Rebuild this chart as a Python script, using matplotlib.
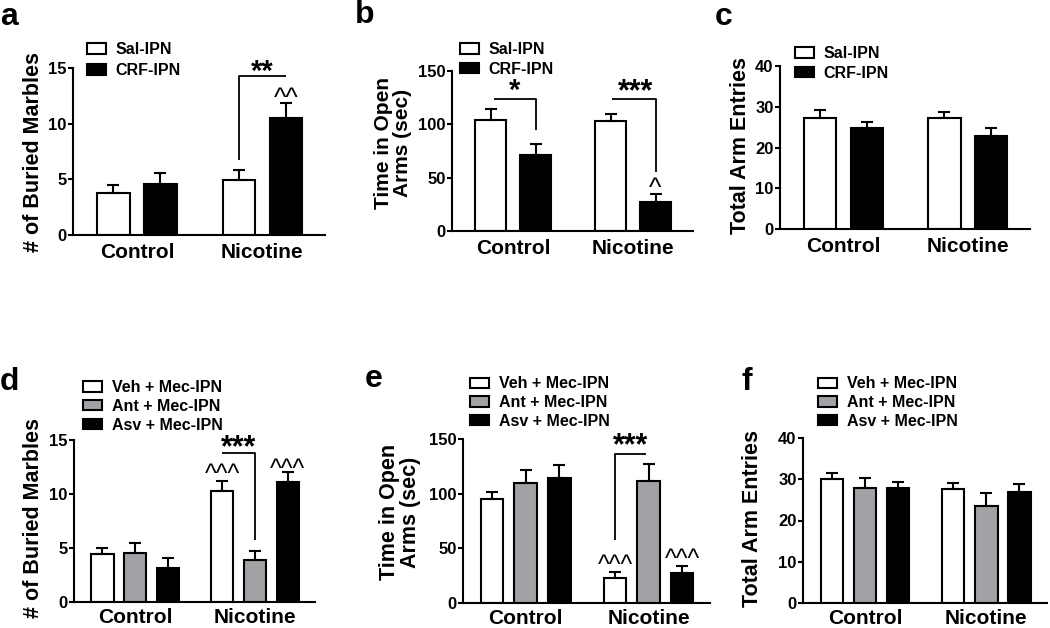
import matplotlib
matplotlib.use("Agg")
import matplotlib.pyplot as plt
from matplotlib.patches import Patch
import numpy as np

plt.rcParams['font.family'] = ['Liberation Sans', 'DejaVu Sans']
plt.rcParams['font.weight'] = 'bold'

# ---------------- data ----------------
groups = ['Control', 'Nicotine']

# panel a: # of buried marbles
a_sal = [3.75, 4.95]
a_sal_err = [0.75, 0.9]
a_crf = [4.6, 10.5]
a_crf_err = [0.95, 1.4]

# panel b: time in open arms
b_sal = [104, 103.5]
b_sal_err = [10, 6.5]
b_crf = [71, 27]
b_crf_err = [10.5, 7.5]

# panel c: total arm entries
c_sal = [27.3, 27.3]
c_sal_err = [2.0, 1.3]
c_crf = [24.9, 22.9]
c_crf_err = [1.4, 1.9]

# panel d
d_veh = [4.42, 10.3]
d_veh_err = [0.62, 0.9]
d_ant = [4.58, 3.87]
d_ant_err = [0.9, 0.83]
d_asv = [3.19, 11.13]
d_asv_err = [0.92, 0.93]

# panel e
e_veh = [95.2, 23.3]
e_veh_err = [6.7, 4.6]
e_ant = [109.6, 111.7]
e_ant_err = [11.6, 15.3]
e_asv = [114.2, 27.6]
e_asv_err = [11.6, 6.4]

# panel f
f_veh = [30.1, 27.6]
f_veh_err = [1.4, 1.6]
f_ant = [27.8, 23.6]
f_ant_err = [2.6, 3.0]
f_asv = [27.8, 26.9]
f_asv_err = [1.6, 1.9]

labels2 = ['Sal-IPN', 'CRF-IPN']
labels3 = ['Veh + Mec-IPN', 'Ant + Mec-IPN', 'Asv + Mec-IPN']
colors2 = ['white', 'black']
colors3 = ['white', '#a2a2a6', 'black']

# ---------------- figure ----------------
W, H = 1050, 628
fig = plt.figure(figsize=(W / 100, H / 100), dpi=100)


def make_ax(L, R, T, B):
    return fig.add_axes([L / W, 1 - B / H, (R - L) / W, (B - T) / H])


LW = 1.5


def style(ax, ymax, yticks, ylabel, lx, ly, lsize=15.5, xpad=6.0):
    ax.set_ylim(0, ymax)
    ax.set_xlim(-0.51, 1.50)
    ax.set_yticks(yticks)
    ax.set_xticks([0, 1])
    ax.set_xticklabels(groups, fontsize=15, fontweight='bold')
    ax.tick_params(axis='x', length=0, pad=xpad)
    ax.tick_params(axis='y', length=3.6, width=LW, pad=1, labelsize=12)
    for s in ['top', 'right']:
        ax.spines[s].set_visible(False)
    for s in ['left', 'bottom']:
        ax.spines[s].set_linewidth(LW)
    for t in ax.get_yticklabels():
        t.set_fontweight('bold')
    ax.set_ylabel(ylabel, fontsize=lsize, fontweight='bold', va='center',
                  multialignment='center', linespacing=1.05)
    ax.yaxis.set_label_coords(lx, ly)


def draw_bars(ax, series, errs, colors, width, offsets):
    x = np.arange(len(groups))
    for vals, err, col, off in zip(series, errs, colors, offsets):
        ax.bar(x + off, vals, width, color=col, edgecolor='black',
               linewidth=LW, zorder=2)
        ax.errorbar(x + off, vals, yerr=[np.zeros(len(vals)), err], fmt='none',
                    ecolor='black', elinewidth=LW, capsize=4.5, capthick=LW,
                    zorder=3)


def legend(ax, labels, colors, px, py, spacing):
    handles = [Patch(facecolor=c, edgecolor='black', linewidth=LW) for c in colors]
    ax.legend(handles, labels, loc='upper left',
              bbox_to_anchor=(px / W, 1 - py / H), bbox_transform=fig.transFigure,
              frameon=False, borderpad=0, borderaxespad=0, handlelength=1.2,
              handleheight=0.62, handletextpad=0.6, labelspacing=spacing,
              prop={'size': 11.5, 'weight': 'bold'})


def bracket(ax, pts):
    xs, ys = zip(*pts)
    ax.plot(xs, ys, color='black', lw=1.3, clip_on=False, zorder=4,
            solid_capstyle='butt')


def star(ax, x, yc, s, size=21):
    ax.annotate(s, xy=(x, yc), xytext=(0, -0.46 * size), textcoords='offset points',
                ha='center', va='baseline', fontsize=size, fontweight='bold',
                annotation_clip=False)


def caret(ax, x, yc, s, size=18):
    ax.annotate(s, xy=(x, yc), xytext=(0, -0.51 * size), textcoords='offset points',
                ha='center', va='baseline', fontsize=size, fontweight='normal',
                annotation_clip=False)


o2 = [-0.1875, 0.1875]
o3 = [-0.273, 0.0, 0.273]
w2 = 0.26
w3 = 0.185

# panel a
ax = make_ax(73, 325, 68, 235)
draw_bars(ax, [a_sal, a_crf], [a_sal_err, a_crf_err], colors2, w2, o2)
style(ax, 15, [0, 5, 10, 15], '# of Buried Marbles', -0.155, 0.5)
legend(ax, labels2, colors2, 87, 42, 0.38)
bracket(ax, [(1 - 0.1875, 6.75), (1 - 0.1875, 14.3), (1 + 0.1875, 14.3)])
star(ax, 1.0, 15.1, '**')
caret(ax, 1 + 0.1875, 12.8, '^^', 19)

# panel b
ax = make_ax(452, 693, 71, 231)
draw_bars(ax, [b_sal, b_crf], [b_sal_err, b_crf_err], colors2, w2, o2)
style(ax, 150, [0, 50, 100, 150], 'Time in Open\nArms (sec)', -0.245, 0.55, 15)
legend(ax, labels2, colors2, 460, 42, 0.3)
bracket(ax, [(-0.1875 + 0.025, 124), (0.1875, 124), (0.1875, 94.7)])
star(ax, 0.01, 136, '*')
bracket(ax, [(1 - 0.1875 + 0.01, 124), (1.19, 124), (1.19, 55.6)])
star(ax, 1.02, 136, '***', 22)
caret(ax, 1.1875, 45.5, '^', 19)

# panel c
ax = make_ax(780, 1030, 66, 229)
draw_bars(ax, [c_sal, c_crf], [c_sal_err, c_crf_err], colors2, w2, o2)
style(ax, 40, [0, 10, 20, 30, 40], 'Total Arm Entries', -0.16, 0.51)
legend(ax, labels2, colors2, 795, 46, 0.3)

# panel d
ax = make_ax(74, 315, 440, 602)
draw_bars(ax, [d_veh, d_ant, d_asv], [d_veh_err, d_ant_err, d_asv_err], colors3, w3, o3)
style(ax, 15, [0, 5, 10, 15], '# of Buried Marbles', -0.17, 0.52, xpad=4.0)
legend(ax, labels3, colors3, 83, 380, 0.24)
bracket(ax, [(1 - 0.273, 13.76), (1.0, 13.76), (1.0, 5.72)])
star(ax, 0.86, 14.78, '***', 22)
caret(ax, 1 - 0.273, 12.3, '^^^')
caret(ax, 1 + 0.273, 12.8, '^^^')

# panel e
ax = make_ax(463, 710, 439, 603)
draw_bars(ax, [e_veh, e_ant, e_asv], [e_veh_err, e_ant_err, e_asv_err], colors3, w3, o3)
style(ax, 150, [0, 50, 100, 150], 'Time in Open\nArms (sec)', -0.255, 0.555, 15.5, xpad=4.0)
legend(ax, labels3, colors3, 470, 376.5, 0.22)
bracket(ax, [(1 - 0.27, 57.6), (1 - 0.27, 136.2), (1 - 0.017, 136.2)])
star(ax, 0.85, 148.8, '***', 22)
caret(ax, 1 - 0.273, 39.2, '^^^')
caret(ax, 1 + 0.273, 44.4, '^^^')

# panel f
ax = make_ax(803, 1047, 438, 603)
draw_bars(ax, [f_veh, f_ant, f_asv], [f_veh_err, f_ant_err, f_asv_err], colors3, w3, o3)
style(ax, 40, [0, 10, 20, 30, 40], 'Total Arm Entries', -0.205, 0.515, xpad=4.0)
legend(ax, labels3, colors3, 818, 376.5, 0.22)

# panel letters
for letter, (px, py) in zip('abcdef', [(0, 25), (355, 23), (715, 25),
                                       (0, 390), (365, 387), (742, 390)]):
    fig.text(px / W, 1 - py / H, letter, fontsize=23, fontweight='bold',
             ha='left', va='baseline')

fig.savefig('out.png', dpi=100)
